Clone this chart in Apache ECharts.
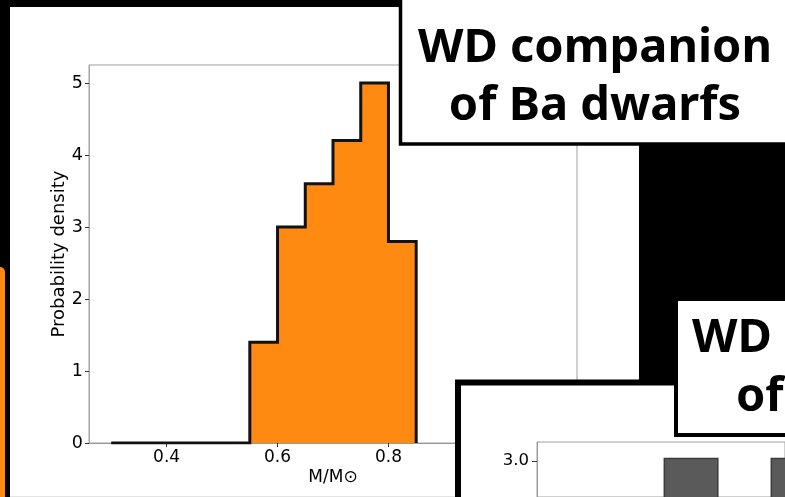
<!DOCTYPE html>
<html>
<head>
<meta charset="utf-8">
<script src="https://cdn.jsdelivr.net/npm/echarts@6/dist/echarts.min.js"></script>
<style>
  html, body { margin: 0; padding: 0; background: #000; }
  #chart { width: 785px; height: 497px; }
</style>
</head>
<body>
<div id="chart"></div>
<script>
// WD companion mass distribution of Ba dwarfs (normalised histogram)
const binEdges = [0.30, 0.35, 0.40, 0.45, 0.50, 0.55, 0.60, 0.65, 0.70, 0.75, 0.80, 0.85];
const densities = [0, 0, 0, 0, 0, 1.4, 3.0, 3.6, 4.2, 5.0, 2.8];
const xTicks = [0.4, 0.6, 0.8];
const yTicks = [0, 1, 2, 3, 4, 5];

// second panel: grey histogram, only the top of it is in view
const greyBins = [1, 2];
const greyValues = [3.02, 3.02];
const greyYTicks = [3.0];

const titleLines = ['WD companion', 'of Ba dwarfs'];
const secondTitleWords = ['WD', 'of'];

const ORANGE = '#ff8a12';
const FONT = 'DejaVu Sans';
const TITLE_FONT = 'bold 47px "Noto Sans"';
const GREY_BAR_WIDTH = 0.5;

// step outline points: each bin's left edge carries its density,
// the closing edge drops back to zero
const stepData = binEdges.slice(0, -1).map((e, i) => [e, densities[i]]);
stepData.push([binEdges[binEdges.length - 1], 0]);

const chart = echarts.init(document.getElementById('chart'), null, { renderer: 'canvas' });

chart.setOption({
  backgroundColor: '#000',
  animation: false,
  grid: [
    { left: 89, top: 65, right: 208, bottom: 54, show: true, borderColor: '#a0a0a0', borderWidth: 1 },
    { left: 537, top: 442, right: 0, bottom: 0, show: true, borderColor: '#a0a0a0', borderWidth: 1, z: 55 }
  ],
  xAxis: [
    {
      type: 'value', gridIndex: 0, min: 0.26, max: 1.14,
      name: 'M/M⊙', nameLocation: 'middle', nameGap: 26, nameMoveOverlap: false,
      nameTextStyle: { fontFamily: FONT, fontSize: 17, color: '#000' },
      axisLine: { show: true, onZero: false, lineStyle: { color: '#999', width: 1 } },
      axisTick: { show: true, length: 4, lineStyle: { color: '#333' }, customValues: xTicks },
      axisLabel: { fontFamily: FONT, fontSize: 17, color: '#000', margin: 6,
                   customValues: xTicks, formatter: v => v.toFixed(1) },
      splitLine: { show: false }
    },
    {
      // only the left part of this panel's axis range is in view
      type: 'value', gridIndex: 1, min: -0.44, max: 1.878, z: 60,
      axisLine: { show: false, onZero: false },
      axisTick: { show: false }, axisLabel: { show: false }, splitLine: { show: false }
    }
  ],
  yAxis: [
    {
      type: 'value', gridIndex: 0, min: 0, max: 5.25,
      name: 'Probability density', nameLocation: 'middle', nameGap: 21, nameMoveOverlap: false,
      nameTextStyle: { fontFamily: FONT, fontSize: 18, color: '#000' },
      axisLine: { show: true, onZero: false, lineStyle: { color: '#a8a8a8', width: 1 } },
      axisTick: { show: true, length: 4, lineStyle: { color: '#333' }, customValues: yTicks },
      axisLabel: { fontFamily: FONT, fontSize: 17.5, color: '#000', margin: 6, customValues: yTicks },
      splitLine: { show: false }
    },
    {
      // only the top of this panel's axis range is in view
      type: 'value', gridIndex: 1, min: 2.717, max: 3.15, z: 60,
      axisLine: { show: true, onZero: false, lineStyle: { color: '#999' } },
      axisTick: { show: true, length: 5, lineStyle: { color: '#333' }, customValues: greyYTicks },
      axisLabel: { fontFamily: FONT, fontSize: 16.5, color: '#000', margin: 8,
                   customValues: greyYTicks, formatter: v => v.toFixed(1) },
      splitLine: { show: false }
    }
  ],
  series: [
    {
      type: 'line', xAxisIndex: 0, yAxisIndex: 0,
      data: stepData, step: 'end', showSymbol: false, z: 3,
      lineStyle: { color: '#111', width: 3, join: 'miter', cap: 'butt' },
      areaStyle: { color: ORANGE, opacity: 1 }
    },
    {
      type: 'custom', xAxisIndex: 1, yAxisIndex: 1, z: 60, clip: true,
      data: greyBins.map((b, i) => [b, greyValues[i]]),
      renderItem: (params, api) => {
        const x = api.value(0), y = api.value(1);
        const p0 = api.coord([x - GREY_BAR_WIDTH / 2, y]);
        const p1 = api.coord([x + GREY_BAR_WIDTH / 2, 0]);
        return {
          type: 'rect',
          shape: { x: p0[0], y: p0[1], width: p1[0] - p0[0], height: p1[1] - p0[1] },
          style: { fill: '#5a5a5a', stroke: '#3c3c3c', lineWidth: 1.5 }
        };
      }
    }
  ],
  graphic: [
    // white card holding the histogram
    { type: 'rect', z: -5, shape: { x: 10, y: 7, width: 629, height: 489 }, style: { fill: '#fff' } },
    { type: 'rect', z: -5, shape: { x: 10, y: 496, width: 445, height: 1 }, style: { fill: '#e4e4e4' } },
    // orange edge of a neighbouring card
    { type: 'rect', z: -5, shape: { x: -10, y: 267, width: 15, height: 240, r: [0, 5, 0, 0] }, style: { fill: ORANGE } },
    // title card
    { type: 'rect', z: 50, shape: { x: 400.5, y: -10, width: 400, height: 154 },
      style: { fill: '#fff', stroke: '#000', lineWidth: 3.5 } },
    { type: 'text', z: 51, x: 595, y: 49,
      style: { text: titleLines[0], font: TITLE_FONT, fill: '#000', textAlign: 'center', textVerticalAlign: 'middle' } },
    { type: 'text', z: 51, x: 595, y: 107,
      style: { text: titleLines[1], font: TITLE_FONT, fill: '#000', textAlign: 'center', textVerticalAlign: 'middle' } },
    // second card, lower right
    { type: 'rect', z: 50, shape: { x: 458, y: 382.5, width: 400, height: 200 },
      style: { fill: '#fff', stroke: '#000', lineWidth: 6 } },
    // second title card
    { type: 'rect', z: 56, shape: { x: 676, y: 299, width: 200, height: 136 },
      style: { fill: '#fff', stroke: '#000', lineWidth: 4 } },
    { type: 'text', z: 57, x: 692, y: 339,
      style: { text: secondTitleWords[0], font: TITLE_FONT, fill: '#000', textAlign: 'left', textVerticalAlign: 'middle' } },
    { type: 'text', z: 57, x: 736, y: 398,
      style: { text: secondTitleWords[1], font: TITLE_FONT, fill: '#000', textAlign: 'left', textVerticalAlign: 'middle' } }
  ]
});
</script>
</body>
</html>
